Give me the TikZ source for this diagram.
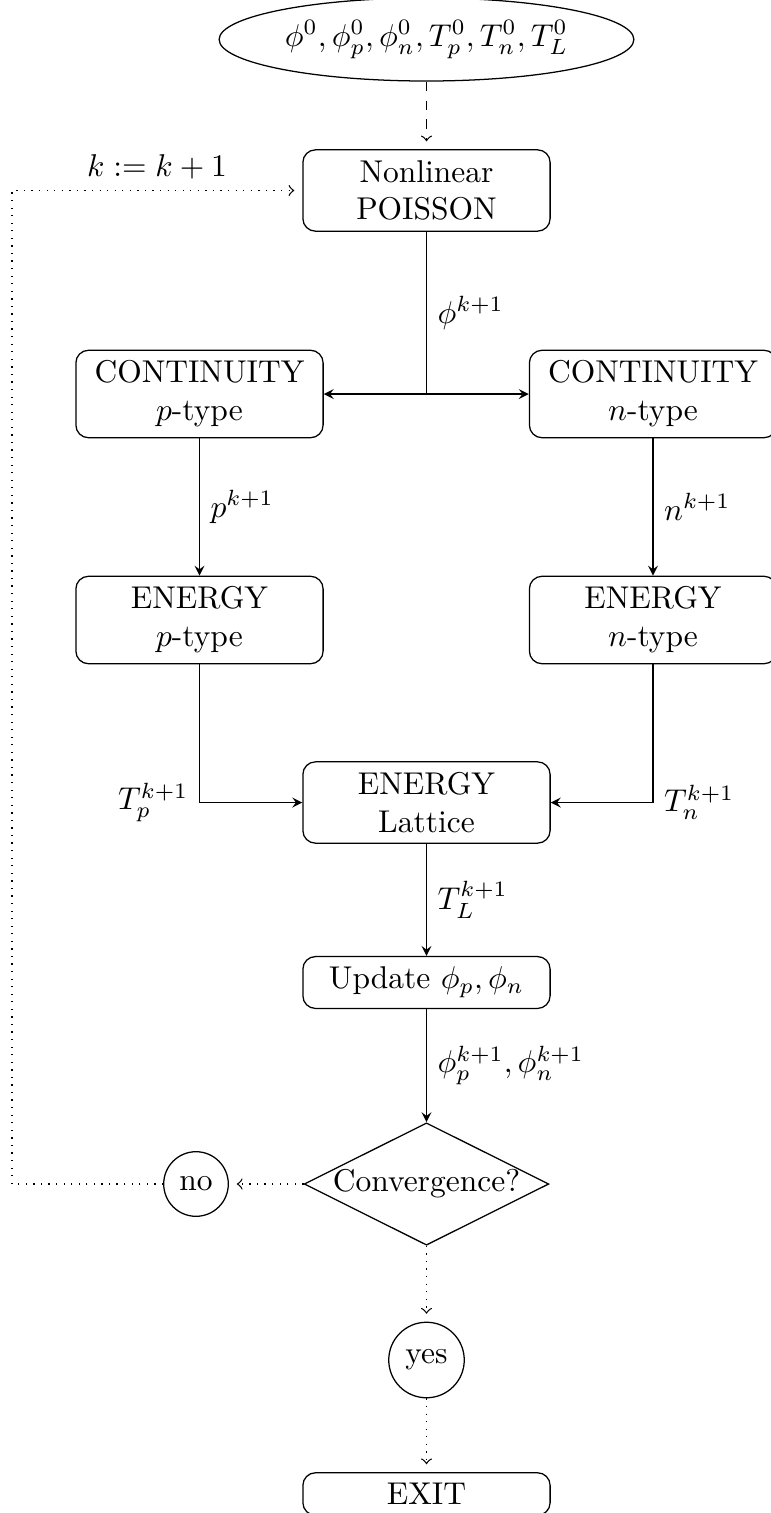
\documentclass[tikz,border=0pt]{standalone}
\usetikzlibrary{shapes.geometric}
\begin{document}
\begin{tikzpicture}[x=0.3175pt,y=-0.3175pt,
  blk/.style={draw, rounded corners, align=center, minimum width=78.5pt, inner sep=3.33pt},
  rnd/.style={draw, circle},
  solidarr/.style={-stealth},
  softarr/.style={->, shorten >=2.5pt}]
\useasboundingbox (0,0) rectangle (770,1513);
\node[draw, ellipse, inner xsep=1.6pt] (init) at (426.5,39.5) {$\phi^0,\phi^0_p,\phi^0_n,T^0_p,T^0_n,T^0_L$};
\node[blk] (pois) at (426.5,190.5) {Nonlinear\\POISSON};
\node[blk] (cp) at (199.5,394) {CONTINUITY\\$p$-type};
\node[blk] (cn) at (653,394) {CONTINUITY\\$n$-type};
\node[blk] (ep) at (199.5,620) {ENERGY\\$p$-type};
\node[blk] (en) at (653,620) {ENERGY\\$n$-type};
\node[blk] (el) at (426.5,802.5) {ENERGY\\Lattice};
\node[blk] (up) at (426.5,982.5) {Update $\phi_p,\phi_n$};
\node[draw, diamond, aspect=2, inner sep=0pt] (conv) at (426.5,1184) {Convergence?};
\node[rnd] (no) at (196,1184) {no};
\node[rnd] (yes) at (426.5,1360) {yes};
\node[blk] (exit) at (426.5,1494) {EXIT};
\coordinate (j) at (pois |- cp);
\coordinate (lft) at (12,1184);
\draw[dashed, softarr] (init) -- (pois);
\draw (pois) -- node[right] {$\phi^{k+1}$} (j);
\draw[solidarr] (j) -- (cp);
\draw[solidarr] (j) -- (cn);
\draw[solidarr] (cp) -- node[right] {$p^{k+1}$} (ep);
\draw[solidarr] (cn) -- node[right] {$n^{k+1}$} (en);
\draw[solidarr] (ep) |- node[pos=0.5, left] {$T_p^{k+1}$} (el);
\draw[solidarr] (en) |- node[pos=0.5, right] {$T_n^{k+1}$} (el);
\draw[solidarr] (el) -- node[right] {$T_L^{k+1}$} (up);
\draw[solidarr] (up) -- node[right] {$\phi_p^{k+1},\phi_n^{k+1}$} (conv);
\draw[dotted, softarr] (conv) -- (no);
\draw[dotted, softarr] (no) -- (lft) |- node[pos=0.75, above] {$k:=k+1$} (pois);
\draw[dotted, softarr] (conv) -- (yes);
\draw[dotted, softarr] (yes) -- (exit);
\end{tikzpicture}
\end{document}
